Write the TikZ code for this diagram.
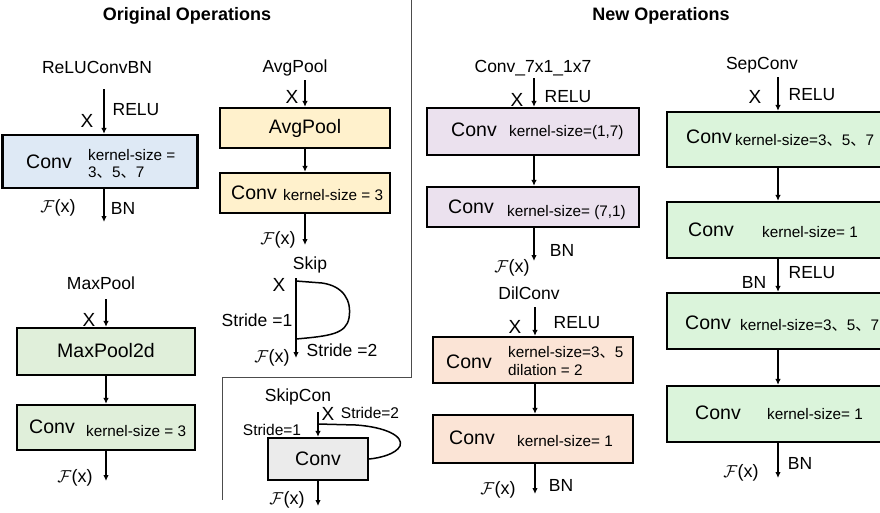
\documentclass[tikz,border=0pt]{standalone}
\usepackage{fontspec}
\setmainfont{Liberation Sans}
\newfontfamily\cjk{Noto Sans CJK SC}
\usetikzlibrary{shapes,arrows.meta}

\definecolor{bluebox}{HTML}{DEE9F5}
\definecolor{yellowbox}{HTML}{FFF1CC}
\definecolor{greenbox}{HTML}{E0EFDA}
\definecolor{purplebox}{HTML}{EBE1EE}
\definecolor{peachbox}{HTML}{FBE4D6}
\definecolor{sepbox}{HTML}{DBF4DB}
\definecolor{graybox}{HTML}{EBEBEB}

\newcommand{\dun}{{\cjk 、}}
\newcommand{\Fx}{$\mathcal{F}$(x)}

\tikzset{
  opbox/.style={draw, line width=2.2pt, inner sep=0pt},
  flow/.style={line width=1.8pt, -{Latex[length=6pt,width=5.5pt]}},
  ttl/.style={font=\fontsize{18}{21}\bfseries\selectfont},
  lbl/.style={font=\fontsize{17.5}{20}\selectfont},
  xin/.style={font=\fontsize{19}{21}\selectfont},
  big/.style={font=\fontsize{19.5}{22}\selectfont},
  ks/.style={font=\fontsize{15.3}{18}\selectfont, anchor=west, inner sep=0pt},
  fx/.style={font=\fontsize{18}{20}\selectfont},
  sep/.style={draw=black!70, line width=1pt}
}

\begin{document}
\begin{tikzpicture}[x=1pt,y=-1pt]
	\clip (0,0) rectangle (880,512);
	\fill[white] (0,0) rectangle (880,512);

	% titles and panel borders
	\node[ttl] (told) at (187,16) {Original Operations};
	\node[ttl] (tnew) at (661,16) {New Operations};
	\draw[sep] (411,0) -- (411,377) -- (222,377) -- (222,500);

	% ---- ReLUConvBN
	\node[lbl] (lrcb) at (97,67) {ReLUConvBN};
	\node[opbox, fill=bluebox, minimum width=195, minimum height=53] (rcb) at (100,161.5) {};
	\coordinate (rcbin) at (104,89);
	\coordinate (rcbout) at (104,222);
	\draw[flow] (rcbin) -- (rcbin |- rcb.north);
	\draw[flow] (rcbin |- rcb.south) -- (rcbout);
	\node[xin] (xrcb) at (87,121) {X};
	\node[lbl] at (136,110) {RELU};
	\node[big] at (49,162) {Conv};
	\node[ks] at (88,155) {kernel-size =};
	\node[ks] at (88,173) {3\dun 5\dun 7};
	\node[fx] at (58,208) {\Fx};
	\node[lbl] at (123,208) {BN};

	% ---- AvgPool
	\node[lbl] (lavg) at (295,68) {AvgPool};
	\node[opbox, fill=yellowbox, minimum width=170, minimum height=40] (avg) at (305,128) {};
	\node[opbox, fill=yellowbox, minimum width=170, minimum height=40] (avgc) at (305,193) {};
	\coordinate (avgin) at (305,80);
	\coordinate (avgout) at (305,245);
	\draw[flow] (avgin) -- (avg.north);
	\draw[flow] (avg) -- (avgc);
	\draw[flow] (avgc.south) -- (avgout);
	\node[xin] at (292,97) {X};
	\node[big] at (305,128) {AvgPool};
	\node[big] at (254,193) {Conv};
	\node[ks] at (283,195) {kernel-size = 3};
	\node[fx] at (278,240) {\Fx};

	% ---- MaxPool
	\node[lbl] (lmax) at (101,283) {MaxPool};
	\node[opbox, fill=greenbox, minimum width=178, minimum height=47] (maxp) at (106,351.5) {};
	\node[opbox, fill=greenbox, minimum width=178, minimum height=45] (maxc) at (106,427.5) {};
	\coordinate (maxin) at (106,299);
	\coordinate (maxout) at (106,481);
	\draw[flow] (maxin) -- (maxp.north);
	\draw[flow] (maxp) -- (maxc);
	\draw[flow] (maxc.south) -- (maxout);
	\node[xin] at (89,320) {X};
	\node[big] at (106,351) {MaxPool2d};
	\node[big] at (52,427) {Conv};
	\node[ks] at (86,431) {kernel-size = 3};
	\node[fx] at (75,478) {\Fx};

	% ---- Skip
	\node[lbl] (lskip) at (310,265) {Skip};
	\coordinate (skin) at (296,278);
	\coordinate (skout) at (296,358);
	\draw[flow] (skin) -- (skout);
	\draw[line width=1.5pt] (296,281) -- (322,283) .. controls (343,286) and (352,300) .. (349,318)
		.. controls (346,334) and (330,336) .. (296,339);
	\node[xin] at (279,285) {X};
	\node[lbl] at (257,320) {Stride =1};
	\node[lbl] at (342,350) {Stride =2};
	\node[fx] at (272,358) {\Fx};

	% ---- SkipCon
	\node[lbl] (lskc) at (298,397) {SkipCon};
	\node[opbox, fill=graybox, minimum width=100, minimum height=42] (skc) at (318,459) {};
	\coordinate (skcin) at (318,412);
	\coordinate (skcout) at (318,506);
	\draw[flow] (skcin) -- (skc.north);
	\draw[flow] (skc.south) -- (skcout);
	\draw[line width=1.5pt] (318,424) -- (356,425) .. controls (385,427) and (404,436) .. (400,446)
		.. controls (396,454) and (380,458) .. (skc.east);
	\node[xin] at (328,414) {X};
	\node[font=\fontsize{15.5}{18}\selectfont] at (370,413) {Stride=2};
	\node[font=\fontsize{15.5}{18}\selectfont] at (272,430) {Stride=1};
	\node[big] at (318,459) {Conv};
	\node[fx] at (287,500) {\Fx};

	% ---- Conv_7x1_1x7
	\node[lbl] (lc71) at (533,68) {Conv\_7x1\_1x7};
	\node[opbox, fill=purplebox, minimum width=212, minimum height=47] (cva) at (533,131.5) {};
	\node[opbox, fill=purplebox, minimum width=212, minimum height=40] (cvb) at (533,207) {};
	\coordinate (cvin) at (534,78);
	\coordinate (cvout) at (534,261);
	\draw[flow] (cvin) -- (cvin |- cva.north);
	\draw[flow] (cvin |- cva.south) -- (cvin |- cvb.north);
	\draw[flow] (cvin |- cvb.south) -- (cvout);
	\node[xin] at (517,100) {X};
	\node[lbl] at (568,97) {RELU};
	\node[big] at (474,130) {Conv};
	\node[ks] at (509,133) {kernel-size=(1,7)};
	\node[big] at (471,207) {Conv};
	\node[ks] at (507,213) {kernel-size= (7,1)};
	\node[lbl] at (562,250) {BN};
	\node[fx] at (512,268) {\Fx};

	% ---- DilConv
	\node[lbl] (ldil) at (529,293) {DilConv};
	\node[opbox, fill=peachbox, minimum width=200, minimum height=46] (dla) at (533,360) {};
	\node[opbox, fill=peachbox, minimum width=200, minimum height=48] (dlb) at (533,439) {};
	\coordinate (dlin) at (535,307);
	\coordinate (dlout) at (535,494);
	\draw[flow] (dlin) -- (dlin |- dla.north);
	\draw[flow] (dlin |- dla.south) -- (dlin |- dlb.north);
	\draw[flow] (dlin |- dlb.south) -- (dlout);
	\node[xin] at (515,327) {X};
	\node[lbl] at (577,323) {RELU};
	\node[big] at (469,362) {Conv};
	\node[ks] at (508,352) {kernel-size=3\dun 5};
	\node[ks] at (508,370) {dilation = 2};
	\node[big] at (472,438) {Conv};
	\node[ks] at (517,441) {kernel-size= 1};
	\node[lbl] at (561,485) {BN};
	\node[fx] at (498,490) {\Fx};

	% ---- SepConv
	\node[lbl] (lsep) at (762,65) {SepConv};
	\foreach \n/\y/\h in {1/139.5/55, 2/230/56, 3/321/56, 4/414/56}
		\node[opbox, fill=sepbox, minimum width=222, minimum height=\h] (sp\n) at (778,\y) {};
	\coordinate (spin) at (778,77);
	\coordinate (spout) at (778,478);
	\draw[flow] (spin) -- (sp1.north);
	\foreach \a/\b in {1/2,2/3,3/4}
		\draw[flow] (sp\a.south) -- (sp\b.north);
	\draw[flow] (sp4.south) -- (spout);
	\node[xin] at (755,97) {X};
	\node[lbl] at (812,95) {RELU};
	\node[big] at (709,137) {Conv};
	\node[ks] at (735,140) {kernel-size=3\dun 5\dun 7};
	\node[big] at (711,230) {Conv};
	\node[ks] at (762,232) {kernel-size= 1};
	\node[lbl] at (754,282) {BN};
	\node[lbl] at (812,273) {RELU};
	\node[big] at (708,323) {Conv};
	\node[ks] at (740,325) {kernel-size=3\dun 5\dun 7};
	\node[big] at (718,413) {Conv};
	\node[ks] at (767,414) {kernel-size= 1};
	\node[lbl] at (800,463) {BN};
	\node[fx] at (741,473) {\Fx};
\end{tikzpicture}
\end{document}
